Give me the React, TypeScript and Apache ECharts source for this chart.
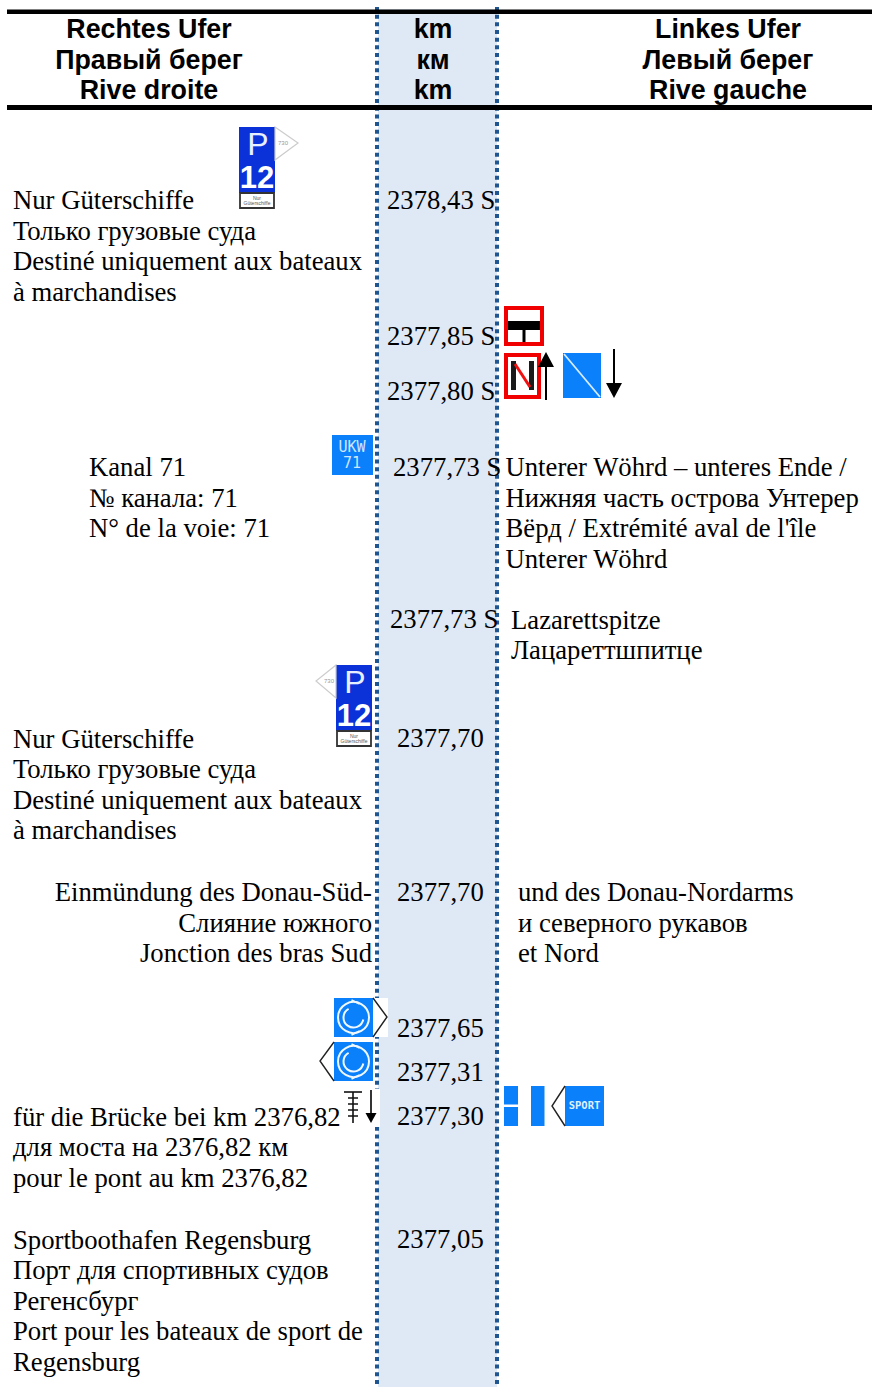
import React, { useEffect, useRef } from "react";
import * as echarts from "echarts";

const headerRight = ["Rechtes Ufer", "Правый берег", "Rive droite"];
const headerKm = ["km", "км", "km"];
const headerLeft = ["Linkes Ufer", "Левый берег", "Rive gauche"];
const cargo = ["Nur Güterschiffe", "Только грузовые суда", "Destiné uniquement aux bateaux", "à marchandises"];
const channel = ["Kanal 71", "№ канала: 71", "N° de la voie: 71"];
const wohrd = ["Unterer Wöhrd – unteres Ende /", "Нижняя часть острова Унтерер", "Вёрд / Extrémité aval de l'île", "Unterer Wöhrd"];
const lazarett = ["Lazarettspitze", "Лацареттшпитце"];
const junctionRight = ["Einmündung des Donau-Süd-", "Слияние южного", "Jonction des bras Sud"];
const junctionLeft = ["und des Donau-Nordarms", "и северного рукавов", "et Nord"];
const bridge = ["für die Brücke bei km 2376,82", "для моста на 2376,82 км", "pour le pont au km 2376,82"];
const marina = ["Sportboothafen Regensburg", "Порт для спортивных судов", "Регенсбург", "Port pour les bateaux de sport de", "Regensburg"];
const kmLabels = ["2378,43 S", "2377,85 S", "2377,80 S", "2377,73 S", "2377,73 S", "2377,70", "2377,70", "2377,65", "2377,31", "2377,30", "2377,05"];

const SERIF = '"Liberation Serif", serif';
const SANS = '"Liberation Sans", sans-serif';
const BLUE = "#0a80fb";
const DEEP = "#0a32d8";
const DOT = "#1f5590";
const LEAD = 30.55;

type El = any;

function lines(list: string[], x: number, y: number, align: string = "left", z = 10): El[] {
  return list.map((t, i) => ({
    type: "text", z,
    style: { text: t, x, y: y + i * LEAD, font: `26.7px ${SERIF}`, fill: "#000", textAlign: align, textVerticalAlign: "middle" },
  }));
}
function head(list: string[], x: number): El[] {
  return list.map((t, i) => ({
    type: "text", z: 10,
    style: { text: t, x, y: 29 + i * 30.7, font: `bold 26.8px ${SANS}`, fill: "#000", textAlign: "center", textVerticalAlign: "middle" },
  }));
}
const rect = (x: number, y: number, w: number, h: number, fill: string, extra: any = {}, z = 5): El => ({
  type: "rect", z, shape: { x, y, width: w, height: h }, style: { fill, ...extra },
});
const seg = (x1: number, y1: number, x2: number, y2: number, stroke: string, lineWidth: number, extra: any = {}, z = 6): El => ({
  type: "line", z, shape: { x1, y1, x2, y2 }, style: { stroke, lineWidth, ...extra },
});
const chevron = (pts: number[][], stroke = "#222"): El => ({
  type: "polyline", z: 6, shape: { points: pts }, style: { stroke, lineWidth: 1.4, fill: "none" },
});
const small = (t: string, x: number, y: number, size: number, fill: string, weight = "normal", family = SANS, z = 7): El => ({
  type: "text", z,
  style: { text: t, x, y, font: `${weight} ${size}px ${family}`, fill, textAlign: "center", textVerticalAlign: "middle" },
});
function arrow(x: number, tail: number, tip: number): El[] {
  const dir = tip < tail ? 1 : -1;
  return [
    seg(x, tail, x, tip + dir * 10, "#000", 2),
    { type: "polygon", z: 6, shape: { points: [[x, tip], [x - 8, tip + dir * 15], [x + 8, tip + dir * 15]] }, style: { fill: "#000" } },
  ];
}
function berth(x: number, y: number): El[] {
  return [
    rect(x, y, 36, 33, DEEP),
    rect(x, y + 33, 36, 33, DEEP),
    small("P", x + 19, y + 17, 32, "#e8f0ff"),
    small("12", x + 18, y + 50, 31, "#fff", "bold"),
    rect(x + 1, y + 66, 34, 15, "#fff", { stroke: "#333", lineWidth: 1.8 }),
    small("Nur", x + 18, y + 71, 5, "#555"),
    small("Güterschiffe", x + 18, y + 76, 5, "#555"),
  ];
}
function turn(x: number, y: number): El[] {
  const cx = x + 19.5, cy = y + 19.5;
  return [
    rect(x, y, 39, 39, BLUE),
    { type: "circle", z: 6, shape: { cx, cy, r: 15.5 }, style: { fill: "none", stroke: "#f0f8ff", lineWidth: 2 } },
    { type: "arc", z: 6, shape: { cx, cy, r: 10, startAngle: 0.2, endAngle: 4.2 }, style: { fill: "none", stroke: "#f0f8ff", lineWidth: 2 } },
    seg(cx - 2, y + 2, cx + 6, y + 6, "#f0f8ff", 1.6),
    seg(cx - 2, y + 37, cx + 6, y + 33, "#f0f8ff", 1.6),
  ];
}

function buildGraphics(): El[] {
  const els: El[] = [];
  // km band and rules
  els.push(rect(378, 9, 119, 1378, "#dfe8f5", {}, 1));
  [377, 497].forEach((x) => els.push(seg(x, 7, x, 1387, DOT, 4, { lineDash: [4, 3.67] }, 3)));
  els.push(rect(7, 9.5, 865, 4.5, "#000", {}, 4));
  els.push(rect(7, 105, 865, 5, "#000", {}, 4));

  // headers
  els.push(...head(headerRight, 149), ...head(headerKm, 433), ...head(headerLeft, 728));

  // km labels
  const kmPos = [[387, 200], [387, 336], [387, 391], [393, 467], [390, 619], [397, 738], [397, 892], [397, 1028], [397, 1072], [397, 1116], [397, 1239]];
  kmLabels.forEach((t, i) => els.push(...lines([t], kmPos[i][0], kmPos[i][1], "left", 12)));

  // text blocks
  els.push(...lines(cargo, 13, 200));
  els.push(...lines(channel, 89, 467));
  els.push(...lines(wohrd, 505.5, 467));
  els.push(...lines(lazarett, 511, 619.5));
  els.push(...lines(cargo, 13, 738.5));
  els.push(...lines(junctionRight, 372, 892, "right"));
  els.push(...lines(junctionLeft, 518, 892));
  els.push(...lines(bridge, 13, 1116.5));
  els.push(...lines(marina, 13, 1239.5));

  // P 12 signs
  els.push(...berth(239, 127));
  els.push({ type: "polygon", z: 5, shape: { points: [[275, 127], [298, 143], [275, 160]] }, style: { fill: "#fff", stroke: "#ccc", lineWidth: 1.2 } });
  els.push(small("730", 283, 143, 6, "#999"));
  els.push(...berth(336, 665));
  els.push({ type: "polygon", z: 5, shape: { points: [[336, 665], [316, 681], [336, 698]] }, style: { fill: "#fff", stroke: "#ccc", lineWidth: 1.2 } });
  els.push(small("730", 329, 681, 6, "#999"));

  // UKW
  els.push(rect(332, 435, 41, 40, BLUE));
  els.push(small("UKW", 352, 447, 15, "#cfe6ff", "normal", '"DejaVu Sans Mono", monospace'));
  els.push(small("71", 352, 463, 15, "#cfe6ff", "normal", '"DejaVu Sans Mono", monospace'));

  // red signs
  els.push(rect(506, 308, 36, 36, "#fff", { stroke: "#f00000", lineWidth: 4 }));
  els.push(rect(508, 321, 32, 9, "#000", {}, 6), seg(524, 330, 524, 342, "#000", 3));
  els.push(rect(506, 355, 33, 42, "#fff", { stroke: "#f00000", lineWidth: 4 }));
  els.push(seg(513.5, 361, 513.5, 390, "#1a1a1a", 5), seg(531.5, 361, 531.5, 390, "#1a1a1a", 5), seg(515, 364, 530, 387, "#f01010", 3));
  els.push(...arrow(546, 400, 352));
  // blue prohibition-end sign
  els.push(rect(563, 353, 38, 45, BLUE));
  els.push(seg(564, 354, 600, 397, "#d8ecff", 1.8));
  els.push(...arrow(614, 349, 398));

  // turning signs
  els.push(rect(373, 998, 15, 39, "#fff", {}, 4));
  els.push(...turn(334, 998));
  els.push(chevron([[373, 998], [387, 1017], [373, 1037]]));
  els.push(...turn(334, 1042));
  els.push(chevron([[334, 1042], [320, 1061], [334, 1081]]));

  // bridge glyph
  els.push(rect(343, 1089, 37, 38, "#fff", {}, 4));
  els.push(seg(344, 1092, 362, 1092, "#111", 1.6), seg(353, 1092, 353, 1123, "#111", 1.6));
  [1098, 1104, 1110, 1116].forEach((y) => els.push(seg(348, y, 358, y, "#111", 1.5)));
  els.push(seg(371, 1090, 371, 1116, "#000", 1.6));
  els.push({ type: "polygon", z: 6, shape: { points: [[371, 1123], [365.5, 1113], [376.5, 1113]] }, style: { fill: "#000" } });

  // left-bank blue signs
  els.push(rect(504, 1086, 14, 18.5, BLUE), rect(504, 1107, 14, 19, BLUE));
  els.push(rect(531, 1086, 13.5, 40, BLUE));
  els.push(rect(565, 1086, 39, 40, BLUE));
  els.push(chevron([[565, 1086], [552, 1106], [565, 1126]]));
  els.push(small("SPORT", 584.5, 1105, 10.5, "#dff0ff", "bold", '"DejaVu Sans Mono", monospace'));
  return els;
}

export default function App() {
  const ref = useRef<HTMLDivElement>(null);
  useEffect(() => {
    document.body.style.margin = "0";
    const chart = echarts.init(ref.current!, undefined, { renderer: "svg" });
    chart.setOption({ animation: false, backgroundColor: "#fff", graphic: { elements: buildGraphics() } });
    return () => chart.dispose();
  }, []);
  return <div ref={ref} style={{ width: 872, height: 1387 }} />;
}
